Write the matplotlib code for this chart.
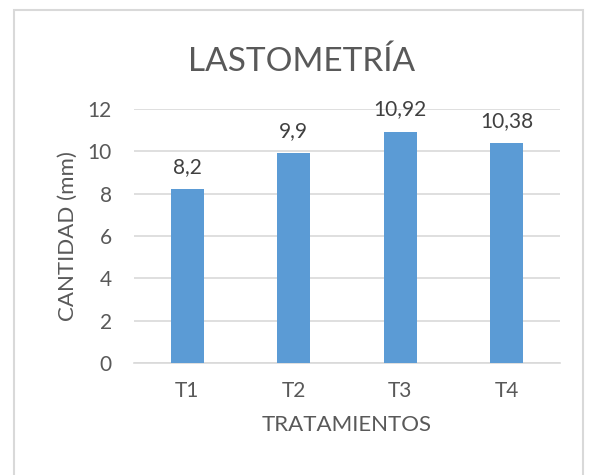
import matplotlib.pyplot as plt
from matplotlib.patches import Rectangle

plt.rcParams['font.family'] = ['Lato', 'DejaVu Sans']

tratamientos = ['T1', 'T2', 'T3', 'T4']
cantidad = [8.2, 9.9, 10.92, 10.38]
yticks = [0, 2, 4, 6, 8, 10, 12]

gris = '#595959'
azul = '#5B9BD5'

fig = plt.figure(figsize=(5.89, 4.75), dpi=100)
ax = fig.add_axes([0.2275, 0.2358, 0.7233, 0.5347])

# chart frame
fig.patches.append(Rectangle((14 / 589, -0.05), 569 / 589, 1 - 10 / 475 + 0.05,
                             transform=fig.transFigure, fill=False,
                             edgecolor='#D9D9D9', linewidth=1.5))

x = range(len(tratamientos))
ax.bar(x, cantidad, width=0.31, color=azul, zorder=3)

for xi, v in zip(x, cantidad):
    ax.annotate(f'{v:g}'.replace('.', ','), (xi, v), xytext=(0, 9),
                textcoords='offset points', ha='center', va='bottom',
                fontsize=15, color='#404040')

ax.set_xlim(-0.5, len(tratamientos) - 0.5)
ax.set_ylim(0, 12)
ax.set_yticks(yticks)
ax.set_xticks(list(x))
ax.set_xticklabels(tratamientos)
ax.grid(axis='y', color='#D9D9D9', linewidth=1.2, zorder=0)
ax.tick_params(length=0, labelsize=15, labelcolor=gris)
ax.tick_params(axis='y', pad=16)
ax.tick_params(axis='x', pad=13)
for s in ['top', 'right', 'left']:
    ax.spines[s].set_visible(False)
ax.spines['bottom'].set_color('#D9D9D9')
ax.spines['bottom'].set_linewidth(1.2)

ax.set_ylabel('CANTIDAD (mm)', fontsize=16, color=gris, labelpad=7)
ax.set_xlabel('TRATAMIENTOS', fontsize=16, color=gris, labelpad=10)

fig.text(302 / 589, 1 - 62 / 475, 'LASTOMETRÍA', ha='center', va='center',
         fontsize=24, color=gris)

fig.savefig('out.png', dpi=100)
